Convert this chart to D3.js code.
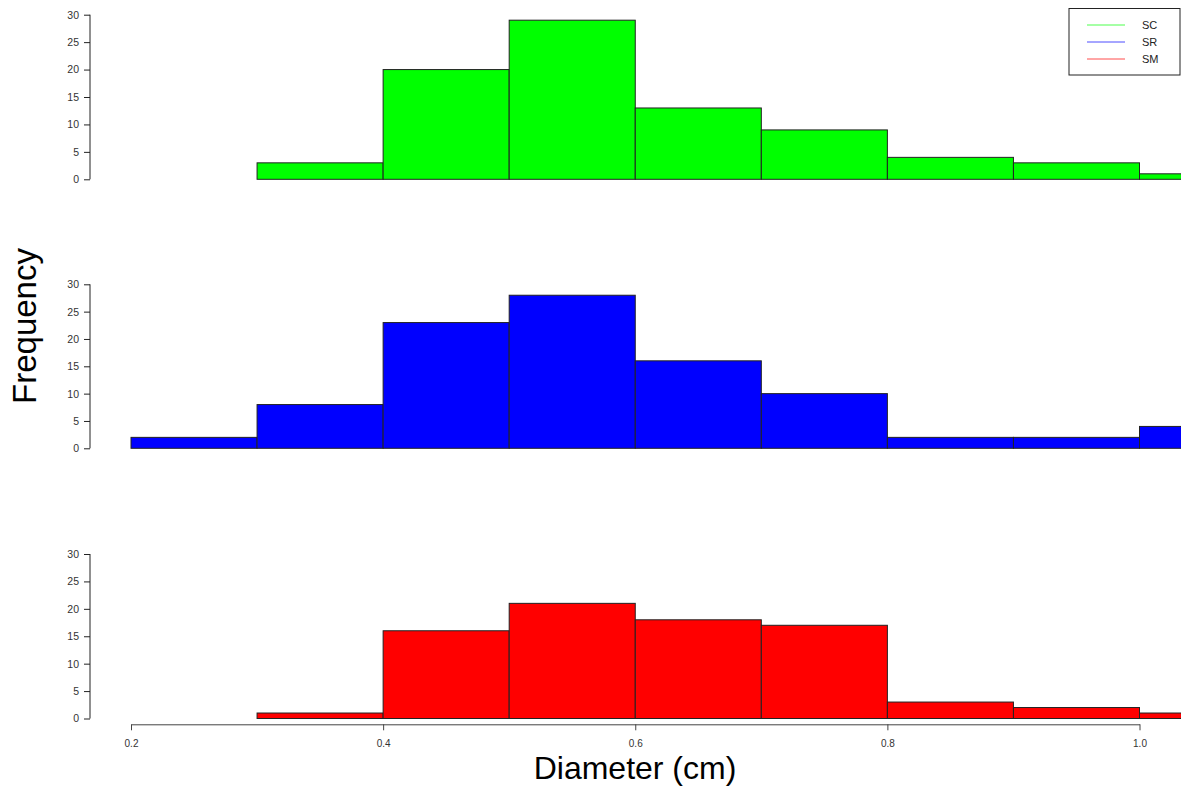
<!DOCTYPE html>
<html><head><meta charset="utf-8">
<script src="https://cdn.jsdelivr.net/npm/d3@7"></script>
<style>body{margin:0;background:#fff}svg{display:block;font-family:"Liberation Sans",Arial,sans-serif}</style>
</head><body><svg id="c" width="1185" height="786"></svg>
<script>
const binStarts = [0.2,0.3,0.4,0.5,0.6,0.7,0.8,0.9,1.0];
const binWidth = 0.1;
const scValues = [0,3,20,29,13,9,4,3,1];
const srValues = [2,8,23,28,16,10,2,2,4];
const smValues = [0,1,16,21,18,17,3,2,1];
const seriesNames = ["SC","SR","SM"];
const seriesColors = ["#00ff00","#0000ff","#ff0000"];
const yTicks = [0,5,10,15,20,25,30];
const xTicks = [0.2,0.4,0.6,0.8,1.0];

const svg = d3.select("#c");
const x = d3.scaleLinear().domain([0.2,1.0]).range([131,1139.5]);
const panels = [
  {vals: scValues, top: 14.7, bottom: 179.3},
  {vals: srValues, top: 284.3, bottom: 448.3},
  {vals: smValues, top: 554, bottom: 718.5}
];
svg.append("defs").append("clipPath").attr("id","clip")
  .append("rect").attr("x",0).attr("y",0).attr("width",1181).attr("height",786);

panels.forEach((p,i)=>{
  const y = d3.scaleLinear().domain([0,30]).range([p.bottom,p.top]);
  const g = svg.append("g");
  const bars = g.append("g").attr("clip-path","url(#clip)");
  binStarts.forEach((b,j)=>{
    const v = p.vals[j];
    if(v<=0) return;
    bars.append("rect")
      .attr("x", x(b)).attr("width", x(b+binWidth)-x(b))
      .attr("y", y(v)).attr("height", y(0)-y(v))
      .attr("fill", seriesColors[i]).attr("stroke","#222").attr("stroke-width",1);
  });
  const ax = g.append("g").attr("transform","translate(90,0)")
    .call(d3.axisLeft(y).tickValues(yTicks).tickSize(6).tickPadding(5));
  ax.select(".domain").attr("stroke","#222").attr("d",`M-0,${y(30)}H0V${y(0)}H-0`);
  ax.selectAll(".tick line").attr("stroke","#222");
  ax.selectAll("text").attr("font-size",10.5).attr("fill","#333").attr("font-family","Liberation Sans, Arial, sans-serif");
});

const xa = svg.append("g").attr("transform","translate(0,724.3)")
  .call(d3.axisBottom(x).tickValues(xTicks).tickFormat(d3.format(".1f")).tickSize(6).tickPadding(10).tickSizeOuter(0));
xa.select(".domain").attr("stroke","#444");
xa.selectAll(".tick line").attr("stroke","#444");
xa.selectAll("text").attr("font-size",10).attr("fill","#333").attr("font-family","Liberation Sans, Arial, sans-serif");

svg.append("text").attr("x",635).attr("y",779).attr("text-anchor","middle")
  .attr("font-size",32).attr("fill","#000").text("Diameter (cm)");
svg.append("text").attr("transform","translate(36,326) rotate(-90)").attr("text-anchor","middle")
  .attr("font-size",33).attr("fill","#000").text("Frequency");

const lg = svg.append("g");
lg.append("rect").attr("x",1069).attr("y",8.5).attr("width",111).attr("height",66.5)
  .attr("fill","#fff").attr("stroke","#222").attr("stroke-width",1);
seriesNames.forEach((n,i)=>{
  const yy = 25 + i*17;
  lg.append("line").attr("x1",1087).attr("x2",1125).attr("y1",yy).attr("y2",yy)
    .attr("stroke",seriesColors[i]).attr("stroke-width",1).attr("stroke-opacity",0.7);
  lg.append("text").attr("x",1142).attr("y",yy+4).attr("font-size",11).attr("fill","#222").text(n);
});
</script></body></html>
